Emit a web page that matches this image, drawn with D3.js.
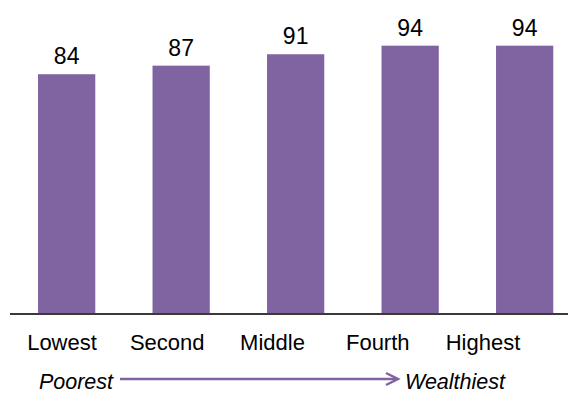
<!DOCTYPE html>
<html>
<head>
<meta charset="utf-8">
<script src="https://cdn.jsdelivr.net/npm/d3@7"></script>
<style>
  html, body { margin: 0; padding: 0; background: #ffffff; }
  svg { display: block; font-family: "Liberation Sans", Arial, sans-serif; }
</style>
</head>
<body>
<svg id="chart" width="568" height="394"></svg>
<script>
const categories = ["Lowest", "Second", "Middle", "Fourth", "Highest"];
const values = [84, 87, 91, 94, 94];
const axisEnds = ["Poorest", "Wealthiest"];

const W = 568, H = 394;
const barColor = "#8064A2";
const svg = d3.select("#chart");

const x = d3.scaleBand().domain(categories).range([9.4, 581.9])
  .paddingInner(0.5).paddingOuter(0.25);
const y = d3.scaleLinear().domain([0, 110]).range([314, 0]);
const xLabel = d3.scalePoint().domain(categories).range([62, 483]);

// bars
svg.append("g").selectAll("rect").data(values).join("rect")
  .attr("x", (d, i) => x(categories[i]))
  .attr("width", x.bandwidth())
  .attr("y", d => y(d))
  .attr("height", d => y(0) - y(d))
  .attr("fill", barColor);

// value labels
svg.append("g").selectAll("text").data(values).join("text")
  .attr("x", (d, i) => x(categories[i]) + x.bandwidth() / 2)
  .attr("y", d => y(d) - 10)
  .attr("text-anchor", "middle")
  .attr("font-size", 23)
  .attr("fill", "#000")
  .text(d => d);

// baseline axis
svg.append("line")
  .attr("x1", 10).attr("x2", 568)
  .attr("y1", y(0)).attr("y2", y(0))
  .attr("stroke", "#3a3a3a").attr("stroke-width", 2);

// category labels
svg.append("g").selectAll("text").data(categories).join("text")
  .attr("x", d => xLabel(d))
  .attr("y", 350)
  .attr("text-anchor", "middle")
  .attr("font-size", 22)
  .attr("fill", "#000")
  .text(d => d);

// Poorest -> Wealthiest
svg.append("text")
  .attr("x", 113).attr("y", 388.5)
  .attr("text-anchor", "end")
  .attr("font-size", 21.5).attr("font-style", "italic")
  .text(axisEnds[0]);
svg.append("text")
  .attr("x", 405).attr("y", 388.5)
  .attr("text-anchor", "start")
  .attr("font-size", 21.5).attr("font-style", "italic")
  .text(axisEnds[1]);
svg.append("line")
  .attr("x1", 120).attr("x2", 397)
  .attr("y1", 379).attr("y2", 379)
  .attr("stroke", barColor).attr("stroke-width", 2.5);
svg.append("path")
  .attr("d", "M386,373 L398,379 L386,385")
  .attr("fill", "none")
  .attr("stroke", barColor).attr("stroke-width", 2.5);
</script>
</body>
</html>
